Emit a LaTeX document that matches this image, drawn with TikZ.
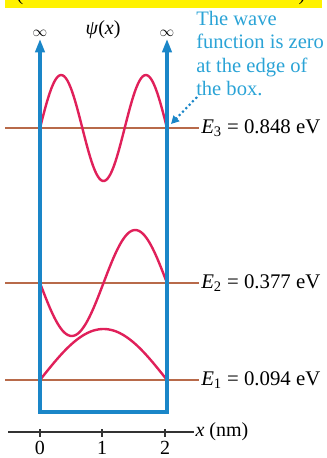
\documentclass[tikz,border=0pt]{standalone}
\usepackage{fontspec}
\setmainfont{Liberation Serif}
\usetikzlibrary{arrows.meta}
\definecolor{wallBlue}{HTML}{1A86C8}
\definecolor{noteCyan}{HTML}{2AA3D6}
\definecolor{waveRed}{HTML}{E0205A}
\definecolor{levelBrown}{HTML}{B86A4A}
\definecolor{barYellow}{HTML}{FFF200}
\tikzset{
  wall/.style={wallBlue, line width=2.3pt, line join=miter,
               {Triangle[length=10pt,width=7pt]}-{Triangle[length=10pt,width=7pt]}},
  level/.style={levelBrown, line width=1.4pt},
  wave/.style={waveRed, line width=1.8pt, line cap=round},
  elabel/.style={anchor=west, inner sep=1.5pt, font=\fontsize{15.6}{17}\selectfont},
  axislbl/.style={font=\fontsize{15}{17}\selectfont, inner sep=1pt},
  note/.style={noteCyan, align=left, inner sep=0pt, anchor=north west,
               font=\fontsize{15.4}{17.6}\selectfont},
}
\begin{document}
\begin{tikzpicture}[x=0.75pt, y=-0.75pt]
    \useasboundingbox (0,0) rectangle (327,458);
    % strip at the top
    \fill[barYellow] (5,-2) rectangle (322,8);
    \node[axislbl, anchor=base] (lp) at (20,0) {(};
    \node[axislbl, anchor=base] (rp) at (302,0) {)};
    % box with infinite walls
    \coordinate (ltop) at (40,39);
    \coordinate (lbot) at (40,412);
    \coordinate (rbot) at (167,412);
    \coordinate (rtop) at (167,39);
    \node[axislbl, font=\fontsize{11}{12}\selectfont] (linf) at (40,33) {$\infty$};
    \node[axislbl, font=\fontsize{11}{12}\selectfont] (rinf) at (167,33) {$\infty$};
    \node[axislbl] (psi)  at (103,30) {\textit{ψ}(\textit{x})};
    % energy levels
    \node[elabel] (e3) at (199,128) {\textit{E}\textsubscript{3} = 0.848 eV};
    \node[elabel] (e2) at (199,283) {\textit{E}\textsubscript{2} = 0.377 eV};
    \node[elabel] (e1) at (199,380) {\textit{E}\textsubscript{1} = 0.094 eV};
    \coordinate (l3) at (5,128);
    \coordinate (l2) at (5,283);
    \coordinate (l1) at (5,380);
    \draw[level] (l3) -- (e3);
    \draw[level] (l2) -- (e2);
    \draw[level] (l1) -- (e1);
    % wave functions
    \draw[wave] plot[domain=0:1, samples=80] ({40+127*\x},{128-53*sin(540*\x)});
    \draw[wave] plot[domain=0:1, samples=80] ({40+127*\x},{283+53*sin(360*\x)});
    \draw[wave] plot[domain=0:1, samples=60] ({40+127*\x},{380-51*sin(180*\x)});
    \draw[wall] (ltop) -- (lbot) -- (rbot) -- (rtop);
    % note
    \node[note] (txt) at (196,11) {The wave\\function is zero\\at the edge of\\the box.};
    \coordinate (edge) at (171,124);
    \draw[wallBlue, line width=1.6pt, dotted, -{Triangle[length=6pt,width=6pt]}]
      (197,97) -- (edge);
    % x axis
    \node[axislbl, anchor=west] (xlab) at (194,432) {\textit{x} (nm)};
    \coordinate (ax0) at (8,432);
    \draw[black!80, line width=1pt] (ax0) -- (xlab);
    \foreach \i/\px in {0/40,1/102,2/165} {
      \draw[black!80, line width=1pt] (\px,429) -- (\px,437);
      \node[axislbl] (t\i) at (\px,448) {\i};
    }
\end{tikzpicture}
\end{document}
